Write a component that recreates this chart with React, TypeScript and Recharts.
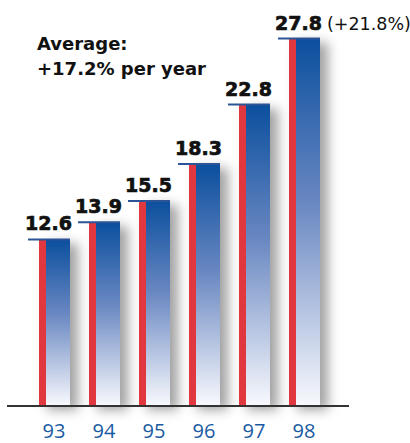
import React from 'react';
import { BarChart, Bar, XAxis, YAxis, LabelList } from 'recharts';

const years = ['93', '94', '95', '96', '97', '98'];
const revenue = [12.6, 13.9, 15.5, 18.3, 22.8, 27.8];
const growthNote = ['', '', '', '', '', '(+21.8%)'];

const data = years.map((year, i) => ({ year, revenue: revenue[i], note: growthNote[i] }));

const RED = '#e1383f';
const NAVY = '#0b4f9e';

// red strip + blue gradient body, soft grey shadow on the right, thin cap line on top
function ColumnShape(props: any) {
  const { x, y, width, height } = props;
  if (height <= 0) return null;
  const strip = 7;
  return (
    <g>
      <rect x={x + 8} y={y + 4} width={width} height={height} fill="#7a7a7a" opacity={0.7} filter="url(#colShadow)" />
      <rect x={x} y={y} width={strip} height={height} fill={RED} />
      <rect x={x + strip} y={y} width={width - strip} height={height} fill="url(#colGrad)" />
      <line x1={x - 11} x2={x + width} y1={y} y2={y} stroke="#2c5496" strokeWidth={2} />
    </g>
  );
}

function ValueLabel(props: any) {
  const { x, y, width, value, index } = props;
  const cx = x + width / 2 - 6;
  return (
    <g>
      <text x={cx} y={y - 9} textAnchor="middle" fontFamily="DejaVu Sans, sans-serif"
        fontWeight="bold" fontSize={19} fill="#111" stroke="#111" strokeWidth={0.7}>
        {value.toFixed(1)}
      </text>
      {growthNote[index] && (
        <text x={x + width + 7} y={y - 9} textAnchor="start" fontFamily="DejaVu Sans, sans-serif"
          fontSize={17.5} fill="#111">
          {growthNote[index]}
        </text>
      )}
    </g>
  );
}

function YearTick(props: any) {
  const { x, y, payload } = props;
  return (
    <text x={x} y={y + 24} textAnchor="middle" fontFamily="Open Sans, sans-serif"
      fontSize={20} fill="#1a5aa2">
      {payload.value}
    </text>
  );
}

export default function App() {
  return (
    <div style={{ width: 410, height: 443, background: '#fff', position: 'relative' }}>
      <style>{`body{margin:0}`}</style>
      <BarChart width={410} height={443} data={data}
        margin={{ top: 20, right: 61, bottom: 0, left: 7 }}>
        <defs>
          <linearGradient id="colGrad" x1="0" y1="0" x2="0" y2="1">
            <stop offset="0%" stopColor={NAVY} />
            <stop offset="45%" stopColor="#6a88c2" />
            <stop offset="100%" stopColor="#f8f9fd" />
          </linearGradient>
          <filter id="colShadow" x="-50%" y="-10%" width="200%" height="130%">
            <feGaussianBlur stdDeviation="6" />
          </filter>
        </defs>
        <XAxis dataKey="year" height={37} padding={{ left: 22, right: 20 }}
          tickLine={false} axisLine={{ stroke: '#333', strokeWidth: 2 }}
          tick={<YearTick />} interval={0} />
        <YAxis hide domain={[0, 29.2]} />
        <Bar dataKey="revenue" barSize={31} shape={<ColumnShape />} isAnimationActive={false}>
          <LabelList dataKey="revenue" content={<ValueLabel />} />
        </Bar>
      </BarChart>
      <div style={{
        position: 'absolute', left: 37, top: 31, fontFamily: 'DejaVu Sans, sans-serif',
        fontWeight: 'bold', fontSize: 18, lineHeight: '25px', color: '#111',
      }}>
        Average:<br />+17.2% per year
      </div>
    </div>
  );
}
